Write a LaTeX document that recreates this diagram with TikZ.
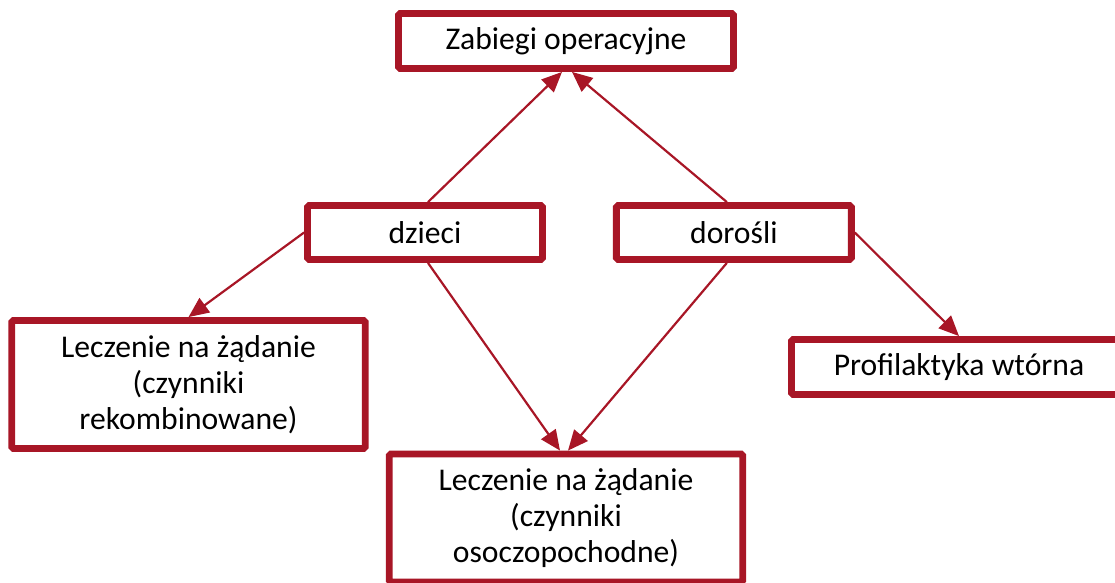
\documentclass[tikz,border=0pt]{standalone}
\usepackage{fontspec}
\setmainfont{Carlito}
\usepackage{xcolor}
\usetikzlibrary{positioning,arrows.meta}
\definecolor{dred}{RGB}{168,22,38}

\begin{document}
\begin{tikzpicture}[
        box/.style={rectangle,draw=dred,line width=3.9pt,rounded corners=1pt,fill=white,align=center,
            font=\fontsize{18}{20.5}\selectfont,minimum width=6.70cm,minimum height=1.10cm,inner sep=0pt},
        small/.style={box,minimum width=4.70cm,minimum height=1.08cm},
        tall/.style={box,minimum width=7.07cm,minimum height=2.56cm},
        arrow/.style={-{Triangle[length=11.5pt,width=10pt]},draw=dred,line width=1.25pt}]
        \clip (0,0) rectangle (22.30,-11.66);
        \node[box] (zab) at (11.32,-0.82) {Zabiegi operacyjne};
        \node[small] (dzieci) at (8.50,-4.65) {dzieci};
        \node[small,right=1.34cm of dzieci] (dorosli) {dorośli};
        \node[tall] (lrek) at (3.77,-7.69) {Leczenie na żądanie\\ (czynniki\\ rekombinowane)};
        \node[box] (prof) at (19.18,-7.34) {Profilaktyka wtórna};
        \node[tall] (losocz) at (11.32,-10.36) {Leczenie na żądanie\\ (czynniki\\ osoczopochodne)};
        \draw[arrow] ([xshift=0.06cm]dzieci.north) -- ([xshift=-0.08cm]zab.south);
        \draw[arrow] ([xshift=-0.14cm]dorosli.north) -- ([xshift=0.12cm]zab.south);
        \draw[arrow] (dzieci.west) -- (lrek.north);
        \draw[arrow] (dorosli.east) -- (prof.north);
        \draw[arrow] ([xshift=0.06cm]dzieci.south) -- ([xshift=-0.12cm]losocz.north);
        \draw[arrow] ([xshift=-0.14cm]dorosli.south) -- ([xshift=0.04cm]losocz.north);
    \end{tikzpicture}
\end{document}
